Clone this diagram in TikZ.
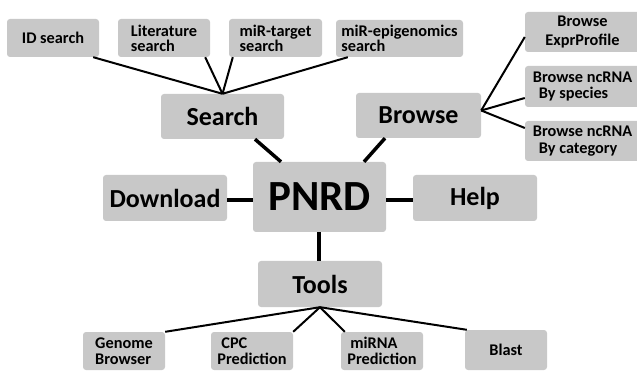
\documentclass[tikz,border=0pt]{standalone}
\usepackage{fontspec}
\setmainfont{Carlito}
\definecolor{boxgray}{HTML}{C8C8C8}
\tikzset{
  box/.style={rectangle, rounded corners=3pt, fill=boxgray, inner sep=0pt, font=\bfseries},
  big/.style={box, minimum width=124pt, minimum height=46pt, font=\fontsize{26}{28}\selectfont\bfseries},
  small/.style={box, minimum width=92pt, minimum height=38pt, align=left, font=\fontsize{16.3}{15}\selectfont\bfseries},
  thin/.style={line width=2pt},
  thick/.style={line width=3.5pt}
}
\begin{document}
\begin{tikzpicture}[x=1pt,y=-1pt]
\useasboundingbox (0,0) rectangle (637,371);
\clip (0,0) rectangle (637,371);
\fill[white] (0,0) rectangle (637,371);
% main nodes
\node[big, minimum width=123pt, minimum height=45pt] (search) at (222.5,116.5) {Search};
\node[big, minimum width=125pt, minimum height=45pt] (browse) at (418.5,115.5) {Browse};
\node[box, minimum width=133pt, minimum height=70pt, font=\fontsize{43}{46}\selectfont\bfseries] (pnrd) at (319.5,197) {PNRD};
\node[big] (download) at (165,198) {Download};
\node[big] (help) at (475,198) {Help};
\node[big] (tools) at (320,284) {Tools};
% search children
\node[small, align=center] (id) at (53,38) {ID search};
\node[small] (lit) at (164,38) {Literature\\search};
\node[small, minimum width=93pt] (target) at (275.5,38) {miR-target\\search};
\node[small, minimum width=127pt, minimum height=37pt] (epi) at (399.5,38.5) {miR-epigenomics\\search};
% browse children
\node[small, align=center, minimum width=115pt, minimum height=40pt, font=\fontsize{16.3}{18}\selectfont\bfseries] (expr) at (582.5,32) {Browse\\ExprProfile};
\node[small, minimum width=115pt, minimum height=41pt, font=\fontsize{16.3}{16}\selectfont\bfseries] (species) at (582.5,86.5) {Browse ncRNA\\\hspace*{6pt}By species};
\node[small, minimum width=115pt, minimum height=40pt, font=\fontsize{16.3}{17}\selectfont\bfseries] (category) at (582.5,141) {Browse ncRNA\\\hspace*{6pt}By category};
% tools children
\node[small, minimum width=82pt, font=\fontsize{16.3}{16}\selectfont\bfseries] (genome) at (124,351) {Genome\\Browser};
\node[small, minimum width=82pt, font=\fontsize{16.3}{16}\selectfont\bfseries] (cpc) at (252,351) {\hspace*{4pt}CPC\\Prediction};
\node[small, minimum width=82pt, font=\fontsize{16.3}{16}\selectfont\bfseries] (mirna) at (382,351) {\hspace*{3pt}miRNA\\Prediction};
\node[small, minimum width=82pt, minimum height=40pt, align=center] (blast) at (506,350) {Blast};
% connectors
\draw[thin] ([xshift=-6pt]id.south east) -- (search.north);
\draw[thin] ([xshift=-5pt]lit.south east) -- (search.north);
\draw[thin] ([xshift=4pt]target.south west) -- (search.north);
\draw[thin] ([xshift=12pt]epi.south west) -- (search.north);
\coordinate (bhub) at ([yshift=5pt]browse.east);
\draw[thin] (bhub) -- ([yshift=-5pt]expr.west);
\draw[thin] (bhub) -- ([yshift=-11.5pt]species.west);
\draw[thin] (bhub) -- ([yshift=13pt]category.west);
\draw[thick] ([xshift=32.5pt]search.south) -- ([xshift=-38.5pt]pnrd.north);
\draw[thick] ([xshift=-33.5pt]browse.south) -- ([xshift=44.5pt]pnrd.north);
\draw[thick] ([yshift=-2pt]download.east) -- ([yshift=-2pt]download.east -| pnrd.west);
\draw[thick] ([yshift=-2pt]help.west) -- ([yshift=-2pt]help.west -| pnrd.east);
\draw[thick] ([xshift=-0.5pt]pnrd.south) -- ([xshift=-0.5pt]pnrd.south |- tools.north);
\draw[thin] (tools.south) -- (genome.north east);
\draw[thin] (tools.south) -- (cpc.north east);
\draw[thin] (tools.south) -- ([xshift=4pt]mirna.north west);
\draw[thin] (tools.south) -- ([xshift=2pt]blast.north west);
\end{tikzpicture}
\end{document}
